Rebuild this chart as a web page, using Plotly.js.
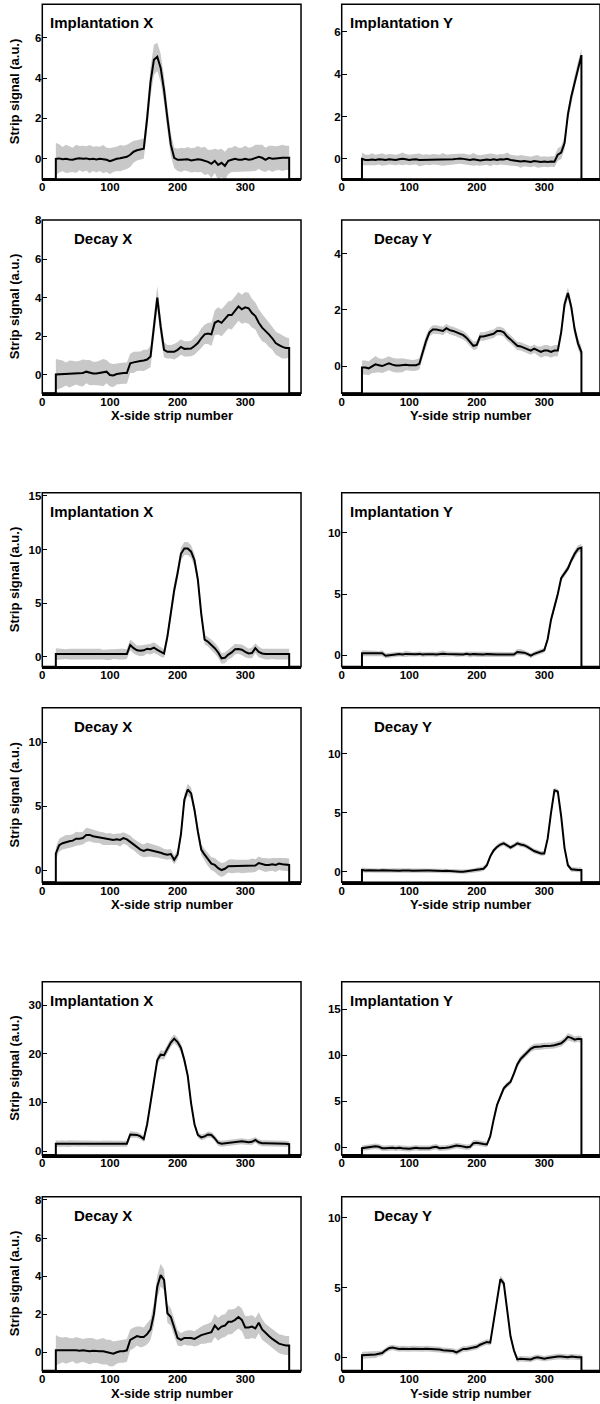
<!DOCTYPE html>
<html><head><meta charset="utf-8">
<script src="https://cdn.plot.ly/plotly-3.0.1.min.js"></script>
<style>html,body{margin:0;padding:0;background:#fff}#chart{width:600px;height:1404px}</style>
</head><body><div id="chart"></div>
<script>
// ---------- data ----------
const STRIP_X = [20,25,30,35,40,45,50,55,60,65,70,75,80,85,90,95,100,105,110,115,120,125,130,135,140,145,150,155,160,165,170,175,180,185,190,195,200,205,210,215,220,225,230,235,240,245,250,255,260,265,270,275,280,285,290,295,300,305,310,315,320,325,330,335,340,345,350,355,360,365];
const STRIP_Y = [30,35,40,45,50,55,60,65,70,75,80,85,90,95,100,105,110,115,120,125,130,135,140,145,150,155,160,165,170,175,180,185,190,195,200,205,210,215,220,225,230,235,240,245,250,255,260,265,270,275,280,285,290,295,300,305,310,315,320,325,330,335,340,345,350,355];
const TICK_X = [0,100,200,300];
const LABELS = ['Implantation X','Implantation Y','Decay X','Decay Y'];
const X_TITLES = ['X-side strip number','Y-side strip number'];
const Y_TITLE = 'Strip signal (a.u.)';

// group 1
const g1_implX = [0,0.02,-0.02,0,-0.03,-0.05,0,0.03,0,0.02,
 -0.02,0,-0.03,0,-0.02,-0.05,-0.12,-0.05,0,0.03,
 0.05,0.1,0.2,0.35,0.42,0.45,0.5,2.0,3.8,4.9,
 5.05,4.5,3.4,2.0,0.7,0.05,-0.05,-0.05,-0.03,-0.02,
 -0.08,-0.05,-0.02,-0.05,-0.1,-0.15,-0.25,-0.1,-0.3,-0.2,
 -0.35,-0.1,-0.05,0,-0.05,-0.05,0,-0.05,-0.02,0.05,
 0.1,0.05,-0.05,0.05,0,0.02,0.05,0.05,0.05,0.05];
const g1_implX_err = [0.8,0.7,0.6,0.7,0.65,0.6,0.7,0.6,0.65,0.6,
 0.7,0.6,0.65,0.6,0.7,0.6,0.65,0.6,0.6,0.65,
 0.6,0.6,0.6,0.55,0.5,0.5,0.5,0.6,0.7,0.75,
 0.7,0.7,0.65,0.6,0.55,0.5,0.55,0.6,0.55,0.6,
 0.6,0.6,0.65,0.6,0.7,0.6,0.7,0.6,0.75,0.7,
 0.7,0.65,0.6,0.65,0.6,0.6,0.65,0.6,0.6,0.65,
 0.6,0.65,0.6,0.6,0.65,0.6,0.6,0.65,0.6,0.6];
const g1_implY = [0.0,-0.05,-0.05,-0.03,-0.05,-0.02,-0.03,-0.05,-0.02,-0.03,
 -0.05,-0.02,0.0,-0.02,-0.05,-0.03,-0.02,-0.05,-0.05,-0.03,
 -0.05,-0.02,-0.03,-0.05,-0.02,-0.05,-0.03,-0.02,0.0,0.02,
 0.0,-0.03,-0.05,-0.02,-0.05,-0.08,-0.05,-0.03,-0.05,-0.02,
 -0.05,-0.02,-0.03,0.0,-0.05,-0.08,-0.1,-0.12,-0.1,-0.12,
 -0.15,-0.1,-0.12,-0.15,-0.12,-0.15,-0.12,-0.13,0.2,0.3,
 0.75,2.1,2.95,3.65,4.3,4.9];
const g1_implY_err = [0.3,0.25,0.25,0.3,0.25,0.25,0.3,0.25,0.25,0.25,
 0.25,0.25,0.3,0.25,0.25,0.25,0.25,0.3,0.25,0.25,
 0.25,0.25,0.25,0.25,0.3,0.25,0.25,0.25,0.25,0.25,
 0.25,0.25,0.25,0.3,0.25,0.25,0.25,0.25,0.3,0.25,
 0.25,0.25,0.25,0.3,0.25,0.25,0.25,0.3,0.25,0.25,
 0.25,0.25,0.3,0.25,0.25,0.25,0.25,0.25,0.3,0.3,
 0.3,0.3,0.3,0.3,0.3,0.3];
const g1_decX = [0.02,0.03,0.05,0.05,0.05,0.08,0.1,0.08,0.1,0.17,
 0.12,0.08,0.08,0.1,0.12,0.17,0.0,-0.03,0.05,0.08,
 0.1,0.1,0.6,0.65,0.7,0.72,0.75,0.8,0.95,2.5,
 4.0,2.5,1.3,1.2,1.2,1.2,1.3,1.45,1.35,1.35,
 1.37,1.5,1.65,1.9,2.1,2.15,2.1,2.7,2.8,2.7,
 2.9,3.1,3.1,3.3,3.55,3.4,3.5,3.45,3.2,3.05,
 2.7,2.45,2.3,2.1,1.9,1.65,1.55,1.45,1.4,1.4];
const g1_decX_err = [0.8,0.75,0.7,0.6,0.7,0.65,0.6,0.65,0.7,0.6,
 0.65,0.6,0.6,0.65,0.7,0.6,0.6,0.6,0.55,0.55,
 0.55,0.55,0.5,0.55,0.5,0.5,0.55,0.5,0.55,0.6,
 0.6,0.55,0.4,0.35,0.35,0.4,0.4,0.4,0.4,0.4,
 0.4,0.45,0.45,0.5,0.5,0.55,0.6,0.65,0.7,0.7,
 0.7,0.7,0.75,0.75,0.75,0.75,0.8,0.8,0.75,0.7,
 0.7,0.7,0.65,0.65,0.6,0.6,0.6,0.6,0.55,0.5];
const g1_decY = [-0.05,-0.05,-0.08,0.0,0.06,0.03,0.0,0.05,0.1,0.05,
 0.02,0.02,0.03,0.05,0.03,0.02,0.03,0.08,0.5,0.9,
 1.2,1.3,1.3,1.28,1.25,1.35,1.28,1.25,1.2,1.15,
 1.1,1.0,0.85,0.72,0.75,1.05,1.05,1.08,1.1,1.15,
 1.25,1.25,1.2,1.05,0.95,0.85,0.72,0.7,0.65,0.6,
 0.55,0.62,0.55,0.5,0.55,0.55,0.5,0.55,0.55,1.2,
 2.2,2.6,2.1,1.3,0.8,0.5];
const g1_decY_err = [0.25,0.25,0.25,0.25,0.3,0.25,0.25,0.25,0.25,0.25,
 0.25,0.25,0.25,0.2,0.2,0.2,0.2,0.2,0.2,0.2,
 0.15,0.15,0.15,0.15,0.15,0.15,0.15,0.15,0.15,0.15,
 0.15,0.15,0.15,0.15,0.15,0.15,0.15,0.15,0.15,0.15,
 0.15,0.15,0.15,0.15,0.15,0.15,0.15,0.15,0.15,0.15,
 0.15,0.15,0.15,0.2,0.2,0.2,0.2,0.2,0.2,0.2,
 0.2,0.2,0.2,0.2,0.2,0.2];

// group 2
const g2_implX = [0.25,0.25,0.25,0.25,0.25,0.25,0.25,0.25,0.25,0.25,
 0.25,0.25,0.25,0.25,0.2,0.2,0.2,0.25,0.25,0.25,
 0.25,0.25,1.1,0.8,0.6,0.55,0.6,0.75,0.7,0.85,
 0.65,0.45,0.3,1.9,4.0,6.2,7.8,9.6,10.1,10.1,
 9.8,9.0,7.2,4.0,1.6,1.4,1.1,0.8,0.4,-0.15,
 -0.1,0.2,0.4,0.7,0.72,0.65,0.45,0.3,0.35,0.8,
 0.45,0.3,0.25,0.25,0.25,0.25,0.25,0.25,0.25,0.25];
const g2_implX_err = [0.55,0.5,0.5,0.45,0.5,0.5,0.45,0.5,0.5,0.45,
 0.5,0.45,0.5,0.5,0.45,0.5,0.5,0.45,0.5,0.5,
 0.5,0.45,0.5,0.5,0.45,0.5,0.5,0.45,0.5,0.5,
 0.45,0.45,0.4,0.5,0.55,0.55,0.6,0.6,0.6,0.6,
 0.6,0.55,0.55,0.5,0.45,0.45,0.5,0.5,0.5,0.5,
 0.5,0.45,0.5,0.5,0.45,0.5,0.5,0.45,0.5,0.45,
 0.5,0.45,0.5,0.5,0.45,0.5,0.5,0.45,0.5,0.5];
const g2_implY = [0.15,0.15,0.15,0.15,0.15,0.12,0.15,-0.05,0.0,0.05,
 0.05,0.08,0.05,0.1,0.08,0.05,0.08,0.1,0.05,0.08,
 0.1,0.08,0.05,0.1,0.12,0.1,0.08,0.1,0.05,0.08,
 0.05,0.1,0.05,0.08,0.05,0.05,0.05,0.08,0.05,0.05,
 0.05,0.05,0.05,0.05,0.05,0.05,0.25,0.25,0.2,0.1,
 -0.05,0.1,0.2,0.3,0.4,1.3,2.9,3.95,5.0,6.3,
 6.7,7.1,7.75,8.3,8.7,8.8];
const g2_implY_err = [0.25,0.25,0.2,0.25,0.2,0.2,0.25,0.2,0.2,0.2,
 0.2,0.2,0.2,0.25,0.2,0.2,0.2,0.2,0.2,0.2,
 0.2,0.2,0.2,0.2,0.25,0.2,0.2,0.2,0.2,0.2,
 0.2,0.2,0.25,0.2,0.2,0.2,0.2,0.2,0.2,0.2,
 0.2,0.2,0.2,0.2,0.2,0.2,0.25,0.25,0.2,0.2,
 0.2,0.2,0.2,0.2,0.2,0.25,0.25,0.25,0.25,0.25,
 0.25,0.25,0.25,0.3,0.3,0.3];
const g2_decX = [1.3,1.95,2.1,2.2,2.25,2.3,2.45,2.45,2.5,2.75,
 2.75,2.65,2.6,2.55,2.45,2.4,2.4,2.35,2.4,2.35,
 2.5,2.4,2.2,2.0,1.8,1.6,1.5,1.6,1.55,1.5,
 1.45,1.35,1.25,1.2,1.25,0.8,1.2,2.8,5.5,6.3,
 6.0,4.7,3.0,1.6,1.2,0.8,0.5,0.4,0.15,0.0,
 0.1,0.3,0.3,0.3,0.3,0.3,0.3,0.3,0.35,0.35,
 0.55,0.45,0.4,0.4,0.45,0.4,0.5,0.45,0.45,0.4];
const g2_decX_err = [0.5,0.5,0.5,0.55,0.5,0.5,0.55,0.5,0.5,0.55,
 0.5,0.5,0.5,0.45,0.5,0.45,0.5,0.45,0.45,0.5,
 0.45,0.45,0.5,0.45,0.45,0.5,0.5,0.55,0.5,0.5,
 0.45,0.45,0.4,0.4,0.4,0.35,0.35,0.4,0.45,0.45,
 0.45,0.4,0.4,0.4,0.45,0.5,0.5,0.55,0.55,0.55,
 0.5,0.5,0.55,0.5,0.5,0.55,0.5,0.5,0.55,0.5,
 0.5,0.5,0.55,0.5,0.5,0.55,0.5,0.5,0.5,0.5];
const g2_decY = [0.15,0.1,0.12,0.1,0.08,0.1,0.12,0.1,0.08,0.1,
 0.1,0.08,0.1,0.12,0.1,0.08,0.1,0.1,0.08,0.1,
 0.1,0.08,0.1,0.08,0.05,0.08,0.05,0.05,0.03,0.0,
 0.0,0.03,0.05,0.1,0.15,0.2,0.25,0.55,1.3,1.8,
 2.1,2.3,2.4,2.2,2.05,2.2,2.4,2.3,2.25,2.1,
 1.9,1.75,1.65,1.55,1.55,2.8,5.0,6.9,6.8,4.7,
 2.0,0.55,0.2,0.15,0.15,0.15];
const g2_decY_err = [0.2,0.2,0.18,0.2,0.18,0.18,0.2,0.18,0.18,0.2,
 0.18,0.18,0.2,0.18,0.18,0.18,0.2,0.18,0.18,0.18,
 0.18,0.18,0.18,0.2,0.18,0.18,0.18,0.18,0.18,0.18,
 0.18,0.18,0.18,0.18,0.2,0.2,0.2,0.2,0.2,0.2,
 0.2,0.2,0.2,0.2,0.2,0.2,0.2,0.2,0.2,0.2,
 0.2,0.2,0.2,0.2,0.2,0.2,0.2,0.2,0.2,0.2,
 0.2,0.2,0.2,0.2,0.2,0.2];

// group 3
const g3_implX = [1.5,1.5,1.55,1.5,1.5,1.55,1.5,1.5,1.55,1.5,
 1.5,1.55,1.5,1.5,1.5,1.55,1.5,1.5,1.5,1.55,
 1.5,1.5,3.4,3.4,3.3,3.0,2.45,5.5,10.1,14.7,
 18.7,19.8,19.7,21.0,22.3,23.1,22.4,21.2,18.7,15.5,
 9.8,5.5,3.3,2.8,3.0,3.4,3.3,2.6,1.7,1.5,
 1.6,1.75,1.8,1.9,2.0,2.0,1.9,1.8,1.9,2.3,
 1.8,1.6,1.6,1.6,1.5,1.5,1.5,1.5,1.5,1.4];
const g3_implX_err = [0.7,0.6,0.65,0.6,0.7,0.6,0.65,0.6,0.6,0.65,
 0.6,0.65,0.6,0.6,0.65,0.6,0.6,0.65,0.6,0.6,
 0.6,0.6,0.65,0.6,0.6,0.6,0.6,0.7,0.8,0.9,
 0.9,0.9,0.9,0.9,0.9,0.9,0.9,0.9,0.9,0.8,
 0.7,0.6,0.6,0.6,0.6,0.6,0.6,0.6,0.6,0.6,
 0.6,0.6,0.65,0.6,0.65,0.6,0.6,0.6,0.65,0.6,
 0.6,0.6,0.6,0.6,0.6,0.6,0.6,0.6,0.6,0.6];
const g3_implY = [-0.1,-0.05,0.0,0.05,0.1,0.05,-0.1,-0.1,-0.05,-0.05,
 -0.1,-0.05,-0.1,-0.15,-0.15,-0.1,-0.05,-0.1,-0.1,-0.15,
 -0.1,0.0,0.05,-0.1,-0.1,-0.05,0.0,0.1,0.2,0.15,
 0.1,0.0,0.05,0.45,0.5,0.4,0.35,0.3,1.2,3.0,
 4.6,5.5,6.4,6.8,7.1,8.0,9.0,9.6,10.0,10.4,
 10.7,10.9,10.9,10.95,11.0,11.0,11.05,11.1,11.2,11.3,
 11.6,12.0,11.9,11.7,11.8,11.75];
const g3_implY_err = [0.3,0.3,0.3,0.35,0.3,0.3,0.3,0.3,0.3,0.3,
 0.3,0.3,0.3,0.3,0.3,0.3,0.3,0.3,0.3,0.3,
 0.3,0.3,0.3,0.3,0.3,0.3,0.3,0.3,0.3,0.3,
 0.3,0.3,0.3,0.35,0.3,0.3,0.3,0.3,0.3,0.3,
 0.3,0.3,0.3,0.3,0.3,0.3,0.35,0.35,0.35,0.35,
 0.35,0.35,0.35,0.35,0.35,0.35,0.35,0.35,0.35,0.35,
 0.35,0.4,0.4,0.35,0.35,0.35];
const g3_decX = [0.1,0.1,0.12,0.1,0.1,0.12,0.1,0.08,0.1,0.08,
 0.05,0.08,0.05,0.05,0.05,0.0,-0.05,-0.08,0.0,0.05,
 0.05,0.1,0.65,0.75,0.85,0.8,0.8,0.95,1.2,2.0,
 3.45,4.05,3.8,2.05,1.85,1.3,0.75,0.65,0.75,0.75,
 0.75,0.7,0.8,0.9,0.95,1.0,1.05,1.4,1.2,1.35,
 1.4,1.6,1.6,1.7,1.85,1.7,1.3,1.3,1.35,1.25,
 1.55,1.2,1.0,0.85,0.7,0.55,0.45,0.4,0.35,0.35];
const g3_decX_err = [0.8,0.7,0.65,0.7,0.65,0.6,0.7,0.65,0.6,0.65,
 0.7,0.65,0.6,0.65,0.7,0.65,0.7,0.65,0.6,0.6,
 0.6,0.6,0.55,0.55,0.5,0.55,0.5,0.55,0.55,0.6,
 0.6,0.6,0.55,0.5,0.45,0.45,0.4,0.35,0.35,0.4,
 0.4,0.4,0.45,0.45,0.5,0.5,0.55,0.6,0.6,0.6,
 0.6,0.65,0.65,0.6,0.6,0.6,0.6,0.6,0.6,0.55,
 0.55,0.55,0.5,0.5,0.5,0.5,0.5,0.5,0.5,0.5];
const g3_decY = [0.15,0.15,0.2,0.15,0.2,0.25,0.3,0.5,0.65,0.7,
 0.65,0.6,0.62,0.6,0.6,0.62,0.6,0.58,0.6,0.62,
 0.6,0.58,0.6,0.55,0.5,0.5,0.5,0.45,0.35,0.5,
 0.6,0.6,0.65,0.7,0.75,0.9,1.0,1.1,1.05,2.5,
 3.9,5.6,5.3,3.2,1.5,0.5,-0.15,-0.1,-0.1,-0.1,
 -0.15,-0.05,0.0,-0.05,-0.1,-0.05,0.0,0.0,0.05,0.05,
 0.0,0.0,0.05,0.0,0.0,0.0];
const g3_decY_err = [0.25,0.25,0.25,0.25,0.25,0.2,0.2,0.2,0.2,0.2,
 0.2,0.2,0.2,0.2,0.2,0.2,0.2,0.2,0.2,0.2,
 0.2,0.2,0.2,0.2,0.2,0.2,0.2,0.2,0.2,0.2,
 0.2,0.2,0.2,0.2,0.2,0.2,0.2,0.2,0.2,0.25,
 0.25,0.25,0.25,0.25,0.2,0.2,0.2,0.2,0.2,0.2,
 0.2,0.2,0.2,0.2,0.2,0.2,0.2,0.2,0.2,0.2,
 0.2,0.2,0.2,0.2,0.2,0.2];

// ---------- panel setup (order: row by row, left then right) ----------
const PANELS = [
  {val:g1_implX, err:g1_implX_err, side:0, kind:0},
  {val:g1_implY, err:g1_implY_err, side:1, kind:0},
  {val:g1_decX,  err:g1_decX_err,  side:0, kind:1},
  {val:g1_decY,  err:g1_decY_err,  side:1, kind:1},
  {val:g2_implX, err:g2_implX_err, side:0, kind:0},
  {val:g2_implY, err:g2_implY_err, side:1, kind:0},
  {val:g2_decX,  err:g2_decX_err,  side:0, kind:1},
  {val:g2_decY,  err:g2_decY_err,  side:1, kind:1},
  {val:g3_implX, err:g3_implX_err, side:0, kind:0},
  {val:g3_implY, err:g3_implY_err, side:1, kind:0},
  {val:g3_decX,  err:g3_decX_err,  side:0, kind:1},
  {val:g3_decY,  err:g3_decY_err,  side:1, kind:1}
];
const Y_RANGE = [[-1,7.65],[-0.95,7.3],[-0.95,8.02],[-0.97,5.2],
                 [-0.93,15.3],[-0.95,13.3],[-0.96,12.7],[-0.9,13.9],
                 [-0.82,34.8],[-0.84,18.0],[-0.97,8.17],[-0.96,11.5]];
const Y_DTICK = [2,2,2,2,5,5,5,5,10,5,2,5];
const X_RANGE = [0,382.5];
const COL_DOM = [[0.0705,0.5017],[0.5695,1.0]];
const ROW_DOM = [[0.87251,0.99694],[0.71987,0.84330],[0.52514,0.64907],
                 [0.37158,0.49594],[0.17735,0.30078],[0.02372,0.14765]];

const FONT = 'Liberation Sans, Arial, Helvetica, sans-serif';
const BAND = 'rgb(200,200,200)';
const traces = [], shapes = [], annotations = [];
const layout = {
  width:600, height:1404, margin:{l:0,r:0,t:0,b:0},
  paper_bgcolor:'#fff', plot_bgcolor:'#fff', showlegend:false,
  font:{family:FONT, color:'#000'}
};

PANELS.forEach((p,i) => {
  const k = i+1;
  const xa = k===1 ? 'x' : 'x'+k, ya = k===1 ? 'y' : 'y'+k;
  const row = Math.floor(i/2), col = i%2;
  const strips = p.side===0 ? STRIP_X : STRIP_Y;
  const yr = Y_RANGE[i];
  const lo = p.val.map((v,j) => v - p.err[j]);
  const hi = p.val.map((v,j) => v + p.err[j]);
  traces.push({type:'scatter', mode:'lines', x:strips, y:lo, xaxis:xa, yaxis:ya,
    line:{width:0, color:BAND}, hoverinfo:'skip'});
  traces.push({type:'scatter', mode:'lines', x:strips, y:hi, xaxis:xa, yaxis:ya,
    fill:'tonexty', fillcolor:BAND, line:{width:0, color:BAND}, hoverinfo:'skip'});
  const n = strips.length;
  const lx = [X_RANGE[0], strips[0]].concat(strips, [strips[n-1], X_RANGE[1]]);
  const ly = [yr[0], yr[0]].concat(p.val, [yr[0], yr[0]]);
  traces.push({type:'scatter', mode:'lines', x:lx, y:ly, xaxis:xa, yaxis:ya,
    line:{width:2, color:'#000'}});

  layout['xaxis'+(k===1?'':k)] = {
    domain:COL_DOM[col], range:X_RANGE, anchor:ya,
    showline:true, linewidth:2.5, linecolor:'#000', mirror:false,
    ticks:'', ticklen:0, ticklabelstandoff:-4, tickvals:TICK_X, ticktext:TICK_X.map(String),
    tickfont:{family:FONT, size:11.5, weight:'bold', color:'#000'},
    showgrid:false, zeroline:false, fixedrange:true
  };
  layout['yaxis'+(k===1?'':k)] = {
    domain:ROW_DOM[row], range:yr, anchor:xa,
    showline:false, ticks:'inside', ticklen:5, tickwidth:1, tickcolor:'#000',
    tick0:0, dtick:Y_DTICK[i],
    tickfont:{family:FONT, size:11.5, weight:'bold', color:'#000'},
    showgrid:false, zeroline:false, fixedrange:true
  };
  shapes.push({type:'rect', xref:xa+' domain', yref:ya+' domain', x0:0, x1:1, y0:0, y1:1,
    line:{color:'#000', width:1.5}, fillcolor:'rgba(0,0,0,0)', layer:'above'});
  annotations.push({text:LABELS[p.kind*2 + p.side], showarrow:false,
    xref:xa+' domain', yref:ya+' domain', x:0, y:1, xanchor:'left', yanchor:'top',
    xshift: p.kind===0 ? 6 : 30, yshift:-8,
    font:{family:FONT, size:15, weight:'bold', color:'#000'}});
  if (col===0) {
    annotations.push({text:Y_TITLE, showarrow:false, textangle:-90,
      xref:'paper', yref:ya+' domain', x:14.5/600, y:0.5, xanchor:'center', yanchor:'middle',
      font:{family:FONT, size:13, weight:'bold', color:'#000'}});
  }
  if (p.kind===1) {
    annotations.push({text:X_TITLES[p.side], showarrow:false,
      xref:xa+' domain', yref:ya+' domain', x:0.5, y:0, xanchor:'center', yanchor:'top',
      yshift:-13, font:{family:FONT, size:13, weight:'bold', color:'#000'}});
  }
});
layout.shapes = shapes;
layout.annotations = annotations;
Plotly.newPlot('chart', traces, layout, {displayModeBar:false, staticPlot:true});
</script></body></html>
